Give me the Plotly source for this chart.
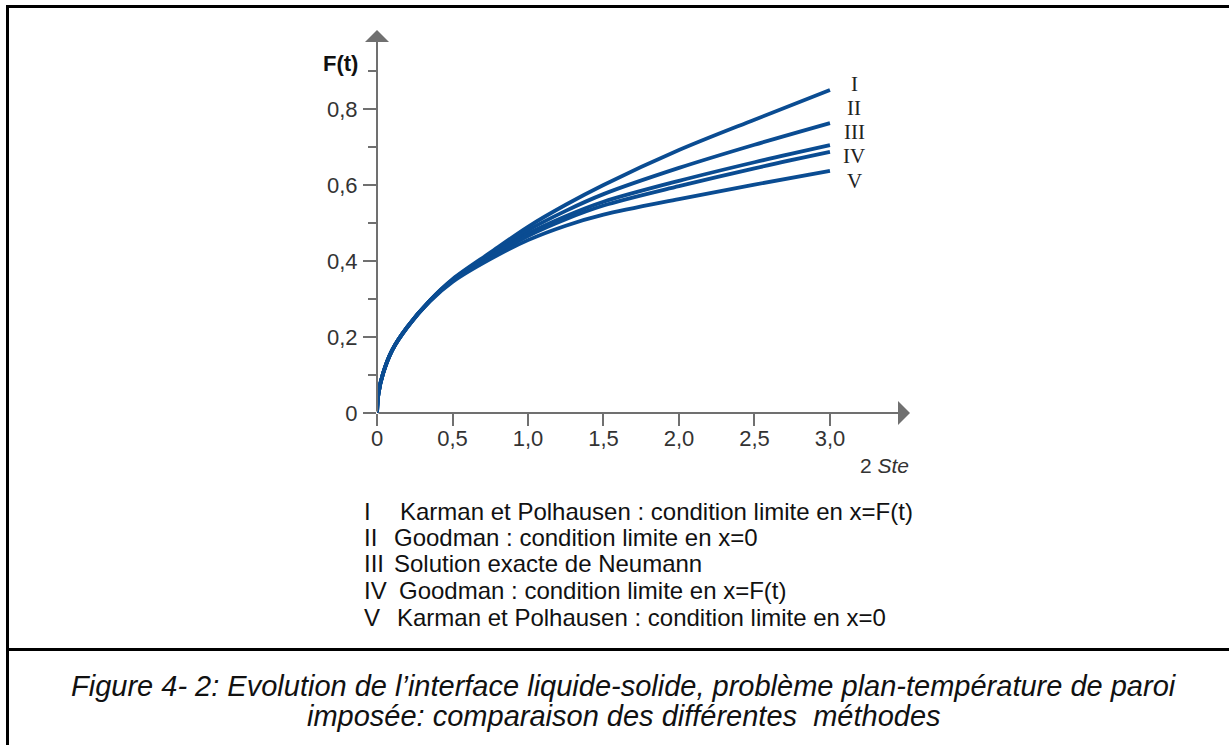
import plotly.graph_objects as go

# --- data -----------------------------------------------------------------
x_ste = [0, 0.01, 0.04, 0.1, 0.2, 0.35, 0.5, 0.75, 1.0, 1.25, 1.5, 2.0, 2.5, 3.0]

F_I   = [0, 0.052, 0.104, 0.165, 0.226, 0.296, 0.352, 0.422, 0.490, 0.548, 0.600, 0.692, 0.772, 0.850]
F_II  = [0, 0.052, 0.104, 0.165, 0.226, 0.296, 0.351, 0.418, 0.481, 0.532, 0.576, 0.645, 0.706, 0.763]
F_III = [0, 0.052, 0.104, 0.165, 0.226, 0.295, 0.349, 0.414, 0.472, 0.518, 0.556, 0.611, 0.660, 0.705]
F_IV  = [0, 0.052, 0.104, 0.165, 0.226, 0.295, 0.348, 0.411, 0.466, 0.510, 0.546, 0.597, 0.644, 0.687]
F_V   = [0, 0.052, 0.104, 0.165, 0.225, 0.294, 0.345, 0.405, 0.455, 0.493, 0.522, 0.563, 0.601, 0.637]

series_names = ["I", "II", "III", "IV", "V"]
series_values = [F_I, F_II, F_III, F_IV, F_V]

legend_texts = [
    "Karman et Polhausen : condition limite en x=F(t)",
    "Goodman : condition limite en x=0",
    "Solution exacte de Neumann",
    "Goodman : condition limite en x=F(t)",
    "Karman et Polhausen : condition limite en x=0",
]

x_tickvals = [0, 0.5, 1.0, 1.5, 2.0, 2.5, 3.0]
x_ticktext = ["0", "0,5", "1,0", "1,5", "2,0", "2,5", "3,0"]
y_tickvals = [0, 0.2, 0.4, 0.6, 0.8]
y_ticktext = ["0", "0,2", "0,4", "0,6", "0,8"]
y_minorvals = [0.1, 0.3, 0.5, 0.7, 0.9]

caption_lines = [
    "Figure 4- 2: Evolution de l\u2019interface liquide-solide, problème plan-température de paroi",
    "imposée: comparaison des différentes  méthodes",
]

# --- layout helpers -------------------------------------------------------
W, H = 1229, 745


def fx(p):
    return p / W


def fy(p):
    return 1 - p / H


LINE_COLOR = "#0a4c92"
AXIS_COLOR = "#707070"
SANS = "Liberation Sans, Arial, sans-serif"
SERIF = "Liberation Serif, Times New Roman, serif"

X_MAX = 3.53
Y_MAX = 1.008

fig = go.Figure()

for name, vals in zip(series_names, series_values):
    fig.add_trace(go.Scatter(
        x=x_ste, y=vals, name=name, mode="lines",
        line=dict(color=LINE_COLOR, width=3.8, shape="spline", smoothing=0.9),
        showlegend=False, hoverinfo="skip",
    ))

fig.update_layout(
    width=W, height=H,
    margin=dict(l=0, r=0, t=0, b=0),
    paper_bgcolor="white", plot_bgcolor="white",
    xaxis=dict(
        domain=[fx(377), fx(910)], range=[0, X_MAX],
        showgrid=False, zeroline=False, showline=False, automargin=False,
        tickmode="array", tickvals=x_tickvals, ticktext=x_ticktext,
        ticks="outside", ticklen=12, tickwidth=2, tickcolor=AXIS_COLOR,
        tickfont=dict(family=SANS, size=22, color="#333333"),
        ticklabelstandoff=-6,
    ),
    yaxis=dict(
        domain=[fy(413), fy(30)], range=[0, Y_MAX],
        showgrid=False, zeroline=False, showline=False, automargin=False,
        tickmode="array", tickvals=y_tickvals, ticktext=y_ticktext,
        ticks="outside", ticklen=13, tickwidth=2, tickcolor=AXIS_COLOR,
        tickfont=dict(family=SANS, size=22, color="#333333"),
        ticklabelstandoff=1,
        minor=dict(tickmode="array", tickvals=y_minorvals, ticks="outside",
                   ticklen=8, tickwidth=2, tickcolor=AXIS_COLOR, showgrid=False),
    ),
)

# axis lines with arrow heads
fig.add_annotation(x=X_MAX, y=0, ax=0, ay=0, xref="x", yref="y", axref="x", ayref="y",
                   showarrow=True, arrowhead=1, arrowsize=2, arrowwidth=2,
                   arrowcolor=AXIS_COLOR, text="", standoff=0, startstandoff=0)
fig.add_annotation(x=0, y=Y_MAX, ax=0, ay=0, xref="x", yref="y", axref="x", ayref="y",
                   showarrow=True, arrowhead=1, arrowsize=2, arrowwidth=2,
                   arrowcolor=AXIS_COLOR, text="", standoff=0, startstandoff=0)


def label(px, py, text, font, xanchor="center"):
    fig.add_annotation(x=fx(px), y=fy(py), xref="paper", yref="paper", showarrow=False,
                       xanchor=xanchor, yanchor="middle", text=text, font=font)


# axis titles
label(340, 63, "<b>F(t)</b>", dict(family=SANS, size=22, color="#111111"))
label(911, 465, "2 <i>Ste</i>", dict(family=SANS, size=21, color="#333333"), xanchor="right")

# curve labels at the right end
label_y_px = [84, 108, 132, 156, 181]
for name, py in zip(series_names, label_y_px):
    label(854, py, name, dict(family=SERIF, size=21, color="#222222"))

# key below the chart
key_y_px = [511, 537, 563, 590, 617]
key_text_x_px = [398, 392, 392, 397, 395]
key_font = dict(family=SANS, size=24, color="#111111")
for name, txt, py, tx in zip(series_names, legend_texts, key_y_px, key_text_x_px):
    label(362, py, name, key_font, xanchor="left")
    label(tx, py, txt, key_font, xanchor="left")

# caption
for line, py in zip(caption_lines, [686, 716]):
    label(624, py, "<i>" + line + "</i>", dict(family=SANS, size=29, color="#111111"))

# frame
frame = dict(xref="paper", yref="paper", line=dict(color="black", width=3))
fig.add_shape(type="line", x0=fx(7.5), x1=fx(7.5), y0=fy(5), y1=fy(H + 5), **frame)
fig.add_shape(type="line", x0=fx(6), x1=fx(W + 5), y0=fy(6.5), y1=fy(6.5), **frame)
fig.add_shape(type="line", x0=fx(6), x1=fx(W + 5), y0=fy(649.5), y1=fy(649.5), **frame)

fig.write_html("out.html", config={"displayModeBar": False})
